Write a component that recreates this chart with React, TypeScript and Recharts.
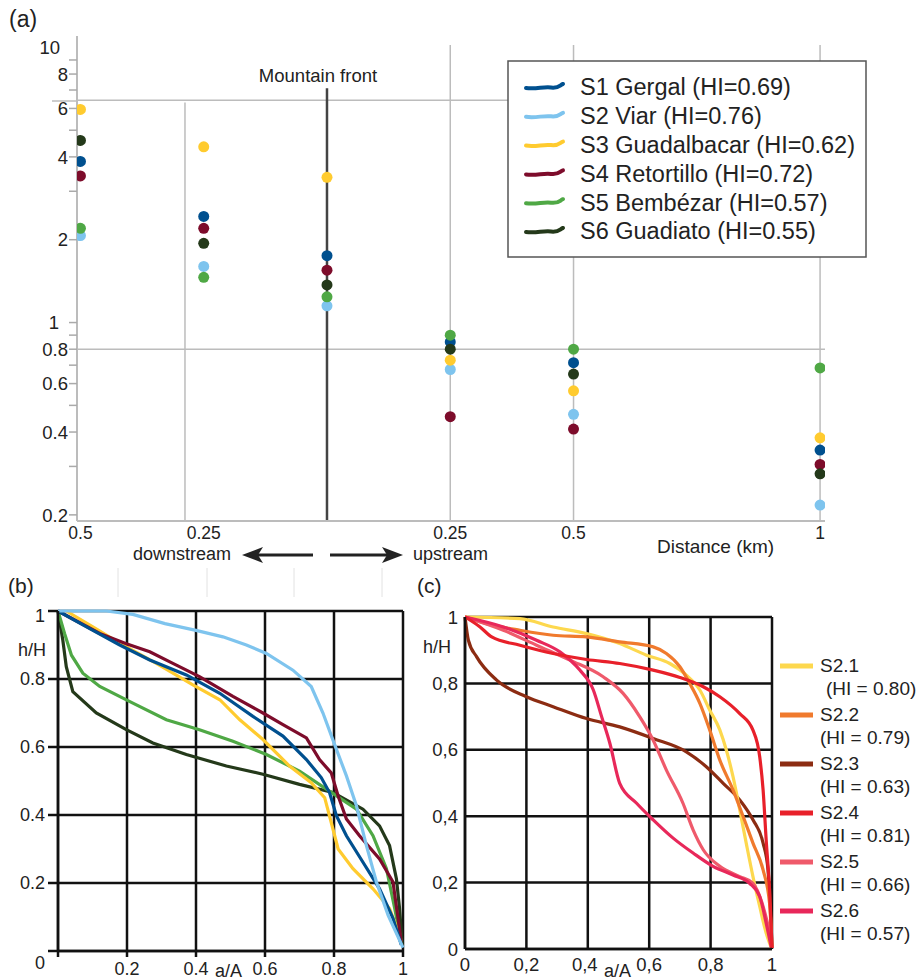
import React from "react";
import { ScatterChart, Scatter, LineChart, Line, XAxis, YAxis, CartesianGrid, ReferenceLine } from "recharts";

// (a) relief values at each distance from the mountain front (negative = downstream)
const distanceKm = [-0.5, -0.25, 0, 0.25, 0.5, 1];
const gergal = [3.85, 2.43, 1.75, 0.85, 0.715, 0.344];
const viar = [2.07, 1.6, 1.15, 0.675, 0.464, 0.217];
const guadalbacar = [5.95, 4.35, 3.37, 0.73, 0.565, 0.381];
const retortillo = [3.41, 2.2, 1.55, 0.455, 0.41, 0.305];
const bembezar = [2.2, 1.46, 1.24, 0.9, 0.8, 0.684];
const guadiato = [4.59, 1.94, 1.37, 0.8, 0.65, 0.282];

const basinNames = ["S1 Gergal", "S2 Viar", "S3 Guadalbacar", "S4 Retortillo", "S5 Bembézar", "S6 Guadiato"];
const basinHI = ["0.69", "0.76", "0.62", "0.72", "0.57", "0.55"];
const basinColors = ["#00508f", "#7ec4ee", "#ffcb2f", "#7d0c2b", "#4fa845", "#24391a"];
const basinValues = [gergal, viar, guadalbacar, retortillo, bembezar, guadiato];

const distanceTicks = [-0.5, -0.25, 0.25, 0.5, 1];
const reliefTicks = [0.2, 0.3, 0.4, 0.5, 0.6, 0.7, 0.8, 0.9, 1, 2, 3, 4, 5, 6, 7, 8, 9, 10];
const reliefLabels = [0.2, 0.4, 0.6, 0.8, 1, 2, 4, 6, 8, 10];

// (b) hypsometric curves, [a/A, h/H]
const gergalCurve = [[0, 1], [0.092, 0.948], [0.179, 0.9], [0.266, 0.856], [0.372, 0.812], [0.469, 0.758], [0.565, 0.69], [0.652, 0.632], [0.72, 0.563], [0.763, 0.51], [0.787, 0.466], [0.807, 0.398], [0.836, 0.339], [0.884, 0.261], [0.932, 0.183], [0.971, 0.096], [0.995, 0.018]];
const viarCurve = [[0, 1], [0.14, 1.0], [0.217, 0.99], [0.31, 0.963], [0.4, 0.943], [0.478, 0.924], [0.546, 0.9], [0.604, 0.875], [0.681, 0.826], [0.734, 0.778], [0.768, 0.7], [0.8, 0.612], [0.836, 0.515], [0.865, 0.427], [0.894, 0.31], [0.923, 0.203], [0.957, 0.105], [1, 0.01]];
const guadalbacarCurve = [[0.024, 1.0], [0.101, 0.953], [0.188, 0.9], [0.285, 0.846], [0.391, 0.783], [0.469, 0.739], [0.527, 0.68], [0.594, 0.622], [0.671, 0.544], [0.734, 0.495], [0.773, 0.451], [0.792, 0.378], [0.812, 0.3], [0.855, 0.242], [0.913, 0.183], [0.961, 0.125], [0.99, 0.047]];
const retortilloCurve = [[0, 1], [0.121, 0.934], [0.198, 0.904], [0.266, 0.88], [0.333, 0.846], [0.41, 0.807], [0.507, 0.749], [0.594, 0.7], [0.652, 0.666], [0.72, 0.627], [0.758, 0.563], [0.792, 0.524], [0.812, 0.456], [0.836, 0.388], [0.874, 0.339], [0.932, 0.271], [0.971, 0.203], [0.995, 0.027]];
const bembezarCurve = [[0, 1], [0.019, 0.934], [0.039, 0.87], [0.072, 0.817], [0.121, 0.778], [0.217, 0.729], [0.314, 0.68], [0.41, 0.651], [0.507, 0.617], [0.604, 0.578], [0.7, 0.529], [0.778, 0.476], [0.865, 0.417], [0.913, 0.339], [0.952, 0.242], [0.976, 0.125], [0.995, 0.027]];
const guadiatoCurve = [[0, 1], [0.014, 0.914], [0.024, 0.836], [0.043, 0.763], [0.111, 0.7], [0.198, 0.651], [0.275, 0.612], [0.372, 0.578], [0.488, 0.544], [0.594, 0.52], [0.7, 0.49], [0.797, 0.466], [0.884, 0.417], [0.932, 0.368], [0.961, 0.31], [0.981, 0.212], [0.99, 0.125], [0.998, 0.018]];
// drawing order for (b), back to front
const bCurves = [guadiatoCurve, bembezarCurve, guadalbacarCurve, retortilloCurve, gergalCurve, viarCurve];
const bColors = ["#24391a", "#4fa845", "#ffcb2f", "#7d0c2b", "#00508f", "#7ec4ee"];

// (c) sub-basins of Viar
const s21 = [[0, 1], [0.179, 0.995], [0.287, 0.97], [0.396, 0.95], [0.504, 0.92], [0.591, 0.885], [0.667, 0.86], [0.721, 0.825], [0.765, 0.78], [0.797, 0.72], [0.83, 0.66], [0.851, 0.6], [0.873, 0.519], [0.895, 0.419], [0.916, 0.319], [0.938, 0.218], [0.96, 0.128], [0.981, 0.048], [0.998, 0.003]];
const s22 = [[0, 1], [0.07, 0.98], [0.179, 0.96], [0.287, 0.945], [0.396, 0.94], [0.504, 0.925], [0.613, 0.91], [0.656, 0.89], [0.7, 0.85], [0.732, 0.8], [0.765, 0.74], [0.797, 0.66], [0.83, 0.569], [0.873, 0.479], [0.906, 0.399], [0.938, 0.319], [0.971, 0.238], [0.992, 0.138], [1, 0.003]];
const s23 = [[0, 1], [0.011, 0.93], [0.038, 0.88], [0.103, 0.81], [0.2, 0.76], [0.287, 0.73], [0.396, 0.694], [0.504, 0.669], [0.613, 0.634], [0.721, 0.594], [0.786, 0.549], [0.841, 0.499], [0.895, 0.449], [0.938, 0.389], [0.971, 0.319], [0.987, 0.238], [0.995, 0.128], [1, 0.003]];
const s24 = [[0, 1], [0.049, 0.97], [0.087, 0.94], [0.179, 0.915], [0.287, 0.89], [0.396, 0.872], [0.504, 0.86], [0.613, 0.84], [0.7, 0.818], [0.776, 0.79], [0.83, 0.76], [0.895, 0.709], [0.938, 0.659], [0.96, 0.579], [0.971, 0.479], [0.981, 0.329], [0.992, 0.178], [1, 0.003]];
const s25 = [[0, 1], [0.125, 0.96], [0.233, 0.915], [0.342, 0.87], [0.45, 0.82], [0.515, 0.77], [0.569, 0.7], [0.613, 0.629], [0.656, 0.539], [0.71, 0.439], [0.743, 0.359], [0.776, 0.299], [0.83, 0.249], [0.895, 0.218], [0.938, 0.198], [0.971, 0.128], [0.992, 0.048], [1, 0.003]];
const s26 = [[0, 1], [0.125, 0.97], [0.233, 0.93], [0.309, 0.895], [0.374, 0.84], [0.418, 0.78], [0.445, 0.7], [0.472, 0.619], [0.504, 0.499], [0.559, 0.439], [0.613, 0.389], [0.678, 0.334], [0.743, 0.289], [0.808, 0.249], [0.873, 0.223], [0.927, 0.198], [0.96, 0.158], [0.981, 0.078], [0.998, 0.003]];

const subNames = ["S2.1", "S2.2", "S2.3", "S2.4", "S2.5", "S2.6"];
const subHI = ["0.80", "0.79", "0.63", "0.81", "0.66", "0.57"];
const subColors = ["#fdd84e", "#f07a2d", "#8c2c12", "#e8202a", "#ef5a6b", "#e8285a"];
const subCurves = [s21, s22, s23, s24, s25, s26];
const subOrder = [2, 0, 1, 4, 5, 3];

const fracTicks = [0, 0.2, 0.4, 0.6, 0.8, 1];

const toPts = (c: number[][]) => c.map(([a, h]) => ({ a, h }));

function LogTick(props: any) {
  const { x, y, payload } = props;
  const v = payload.value;
  return (
    <g>
      {v < 10 && <line x1={x - 8} x2={x} y1={y} y2={y} stroke="#aaa" strokeWidth={1.5} />}
      {reliefLabels.includes(v) && (
        <text x={v >= 10 ? x - 17 : v === 1 ? x - 18 : x - 9} y={y} dy="0.36em" textAnchor="end" fontSize={18.5} fill="#222">{v}</text>
      )}
    </g>
  );
}

function DistTick(props: any) {
  const { x, y, payload } = props;
  return (
    <text x={x} y={y + 18} textAnchor="middle" fontSize={17.5} fill="#222">{Math.abs(payload.value)}</text>
  );
}

function BTickY(props: any) {
  const { x, y, payload } = props;
  const v = payload.value;
  const shift = v === 0 ? 12 : v === 1 ? 5 : 0;
  return (
    <g>
      <line x1={x - 10} x2={x} y1={y} y2={y} stroke="#111" strokeWidth={2.5} />
      <text x={x - 13} y={y + shift} dy="0.36em" textAnchor="end" fontSize={18} fill="#222">{v}</text>
    </g>
  );
}

function BTickX(props: any) {
  const { x, y, payload } = props;
  const v = payload.value;
  return (
    <g>
      <line x1={x} x2={x} y1={y} y2={y + 6} stroke="#111" strokeWidth={2.5} />
      {v !== 0 && <text x={x} y={y + 24} textAnchor="middle" fontSize={18} fill="#222">{v}</text>}
    </g>
  );
}

function CTickY(props: any) {
  const { x, y, payload } = props;
  return (
    <text x={x - 7} y={y} dy="0.36em" textAnchor="end" fontSize={18.5} fill="#222">
      {String(payload.value).replace(".", ",")}
    </text>
  );
}

function CTickX(props: any) {
  const { x, y, payload } = props;
  const v = payload.value;
  return (
    <text x={v === 0.4 ? x - 3 : x} y={y + 22} textAnchor="middle" fontSize={18.5} fill="#222">
      {String(v).replace(".", ",")}
    </text>
  );
}

export default function App() {
  const font = '"Liberation Sans", Arial, sans-serif';
  const gray = "#bcbcbc";
  return (
    <div style={{ position: "absolute", left: 0, top: 0, width: 921, height: 980, background: "#fff", fontFamily: font }}>
      {/* (a) */}
      <div style={{ position: "absolute", left: 0, top: 0 }}>
        <ScatterChart width={921} height={580} margin={{ top: 36, right: 96, bottom: 58, left: 76 }}>
          <XAxis type="number" dataKey="x" domain={[-0.507, 1.01]} ticks={distanceTicks} tick={<DistTick />}
            tickLine={false} tickSize={0} tickMargin={0} height={1} allowDataOverflow interval={0}
            axisLine={{ stroke: gray, strokeWidth: 2 }} />
          <YAxis type="number" dataKey="y" scale="log" domain={[0.19, 11]} ticks={reliefTicks} tick={<LogTick />}
            tickLine={false} tickSize={0} tickMargin={0} width={1} allowDataOverflow interval={0}
            axisLine={{ stroke: gray, strokeWidth: 2 }} />
          <ReferenceLine y={6.42} stroke={gray} strokeWidth={1.5} />
          <ReferenceLine y={0.8} stroke={gray} strokeWidth={1.5} />
          <ReferenceLine segment={[{ x: -0.288, y: 6.3 }, { x: -0.288, y: 0.19 }]} stroke={gray} strokeWidth={1.5} />
          <ReferenceLine segment={[{ x: 0.25, y: 10.2 }, { x: 0.25, y: 0.19 }]} stroke={gray} strokeWidth={1.5} />
          <ReferenceLine segment={[{ x: 0.5, y: 10.2 }, { x: 0.5, y: 0.19 }]} stroke={gray} strokeWidth={1.5} />
          <ReferenceLine segment={[{ x: 1, y: 10.2 }, { x: 1, y: 0.19 }]} stroke={gray} strokeWidth={1.5} />
          <ReferenceLine segment={[{ x: 0, y: 7.1 }, { x: 0, y: 0.19 }]} stroke="#444" strokeWidth={2.5} />
          {basinValues.map((vals, i) => (
            <Scatter key={basinNames[i]} name={basinNames[i]} isAnimationActive={false}
              data={distanceKm.map((d, j) => ({ x: d, y: vals[j] }))}
              fill={basinColors[i]}
              shape={(p: any) => <circle cx={p.cx} cy={p.cy} r={5.5} fill={basinColors[i]} />} />
          ))}
        </ScatterChart>
      </div>

      {/* (b) */}
      <div style={{ position: "absolute", left: 0, top: 580 }}>
        <LineChart width={430} height={400} margin={{ top: 31, right: 27, bottom: 28, left: 57 }}>
          <CartesianGrid stroke="#111" strokeWidth={2.5} />
          <XAxis type="number" dataKey="a" domain={[0, 1]} ticks={fracTicks} tick={<BTickX />} interval={0}
            tickLine={false} tickSize={0} tickMargin={0} height={1}
            axisLine={{ stroke: "#111", strokeWidth: 2.5 }} />
          <YAxis type="number" domain={[0, 1]} ticks={fracTicks} tick={<BTickY />} interval={0}
            tickLine={false} tickSize={0} tickMargin={0} width={1}
            axisLine={{ stroke: "#111", strokeWidth: 2.5 }} />
          {bCurves.map((c, i) => (
            <Line key={i} data={toPts(c)} dataKey="h" type="linear" stroke={bColors[i]} strokeWidth={3.2}
              dot={false} isAnimationActive={false} />
          ))}
        </LineChart>
      </div>

      {/* (c) */}
      <div style={{ position: "absolute", left: 420, top: 580 }}>
        <LineChart width={501} height={400} margin={{ top: 37, right: 149, bottom: 30, left: 44 }}>
          <CartesianGrid stroke="#111" strokeWidth={2.5} />
          <XAxis type="number" dataKey="a" domain={[0, 1]} ticks={fracTicks} tick={<CTickX />} interval={0}
            tickLine={false} tickSize={0} tickMargin={0} height={1}
            axisLine={{ stroke: "#111", strokeWidth: 2.5 }} />
          <YAxis type="number" domain={[0, 1]} ticks={fracTicks} tick={<CTickY />} interval={0}
            tickLine={false} tickSize={0} tickMargin={0} width={1}
            axisLine={{ stroke: "#111", strokeWidth: 2.5 }} />
          {subOrder.map((i) => (
            <Line key={subNames[i]} name={subNames[i]} data={toPts(subCurves[i])} dataKey="h" type="monotone"
              stroke={subColors[i]} strokeWidth={3.2} dot={false} isAnimationActive={false} />
          ))}
        </LineChart>
      </div>

      {/* annotations and legends */}
      <svg width={921} height={980} style={{ position: "absolute", left: 0, top: 0, pointerEvents: "none" }}
        fontFamily={font} fill="#222">
        <text x={9} y={27} fontSize={23}>(a)</text>
        <text x={8} y={593} fontSize={21}>(b)</text>
        <text x={417} y={593} fontSize={21}>(c)</text>

        <line x1={52} x2={77} y1={101} y2={101} stroke="#bcbcbc" strokeWidth={1.5} />
        <text x={318} y={82} fontSize={18.5} textAnchor="middle">Mountain front</text>

        <text x={133} y={560} fontSize={18}>downstream</text>
        <line x1={313} x2={256} y1={555} y2={555} stroke="#222" strokeWidth={3} />
        <polygon points="242,555 263,547 258,555 263,563" fill="#222" />
        <line x1={330} x2={389} y1={555} y2={555} stroke="#222" strokeWidth={3} />
        <polygon points="403,555 382,547 387,555 382,563" fill="#222" />
        <text x={413} y={560} fontSize={18}>upstream</text>
        <text x={657} y={553} fontSize={19}>Distance (km)</text>

        {[118, 207, 294, 382].map((x) => (
          <line key={x} x1={x} x2={x} y1={568} y2={597} stroke="#e2e2e2" strokeWidth={1} />
        ))}

        <rect x={508} y={61} width={358} height={196} fill="#fff" stroke="#555" strokeWidth={1.5} />
        {basinNames.map((n, i) => {
          const y = 87 + i * 28.8;
          return (
            <g key={n}>
              <path d={`M526,${y + 1} C536,${y + 2.5} 543,${y - 0.5} 551,${y + 0.5} S560,${y - 2} 563,${y - 3}`}
                stroke={basinColors[i]} strokeWidth={4} fill="none" strokeLinecap="round" />
              <text x={580} y={y} dy="0.36em" fontSize={23.5}>{`${n} (HI=${basinHI[i]})`}</text>
            </g>
          );
        })}

        <text x={18} y={656} fontSize={18}>h/H</text>
        <text x={215} y={977} fontSize={18}>a/A</text>
        <text x={423} y={653} fontSize={18}>h/H</text>
        <text x={604} y={977} fontSize={18}>a/A</text>

        {subNames.map((n, i) => {
          const y = 665 + i * 49;
          return (
            <g key={n}>
              <line x1={780} x2={813} y1={y + 1} y2={y + 1} stroke={subColors[i]} strokeWidth={5} />
              <text x={820} y={y} dy="0.36em" fontSize={19}>{n}</text>
              <text x={i === 0 ? 826 : 820} y={y + 23} dy="0.36em" fontSize={19}>{`(HI = ${subHI[i]})`}</text>
            </g>
          );
        })}
      </svg>
    </div>
  );
}
